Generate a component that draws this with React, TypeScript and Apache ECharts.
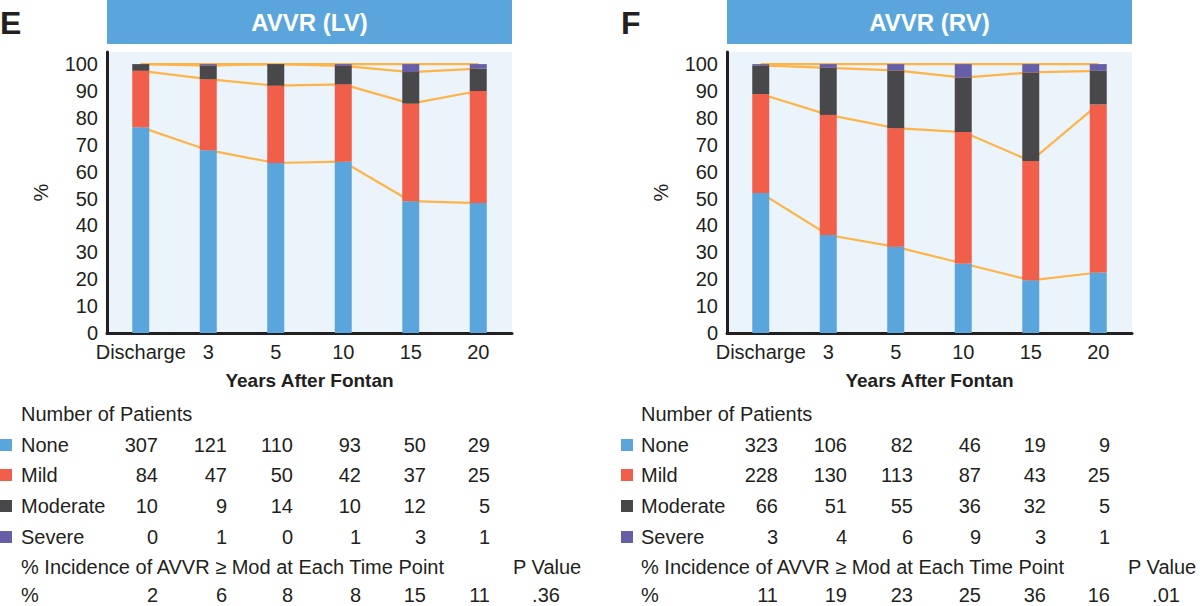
import React, { useEffect, useRef } from "react";
import * as echarts from "echarts";

// ---------- data ----------
const categories = ["Discharge", "3", "5", "10", "15", "20"];
const yTicks = [0, 10, 20, 30, 40, 50, 60, 70, 80, 90, 100];

// AVVR (LV) — percentages per time point
const lvNonePct = [76.56, 67.98, 63.22, 63.7, 49.02, 48.33];
const lvMildPct = [20.95, 26.4, 28.74, 28.77, 36.27, 41.67];
const lvModPct = [2.49, 5.06, 8.05, 6.85, 11.76, 8.33];
const lvSevPct = [0, 0.56, 0, 0.68, 2.94, 1.67];
// AVVR (RV)
const rvNonePct = [52.1, 36.43, 32.03, 25.84, 19.59, 22.5];
const rvMildPct = [36.77, 44.67, 44.14, 48.88, 44.33, 62.5];
const rvModPct = [10.65, 17.53, 21.48, 20.22, 32.99, 12.5];
const rvSevPct = [0.48, 1.37, 2.34, 5.06, 3.09, 2.5];

// Number of patients
const lvNoneN = [307, 121, 110, 93, 50, 29];
const lvMildN = [84, 47, 50, 42, 37, 25];
const lvModN = [10, 9, 14, 10, 12, 5];
const lvSevN = [0, 1, 0, 1, 3, 1];
const rvNoneN = [323, 106, 82, 46, 19, 9];
const rvMildN = [228, 130, 113, 87, 43, 25];
const rvModN = [66, 51, 55, 36, 32, 5];
const rvSevN = [3, 4, 6, 9, 3, 1];

const lvIncidence = [2, 6, 8, 8, 15, 11];
const rvIncidence = [11, 19, 23, 25, 36, 16];
const lvPValue = ".36";
const rvPValue = ".01";

const gradeNames = ["None", "Mild", "Moderate", "Severe"];
const panelTitles = ["AVVR (LV)", "AVVR (RV)"];
const panelLetters = ["E", "F"];

// ---------- style ----------
const COLORS = ["#5aa5dc", "#f15f4a", "#48484a", "#675ea8"];
const LINE_COLOR = "#fdb448";
const TEXT = "#231f20";
const FONT = "'Liberation Sans', Arial, sans-serif";
const OFFSET = 620;
const colRight = [158, 227, 293, 361, 426, 490];
const rowY = [445, 475, 506, 537];

export default function App() {
  const ref = useRef<HTMLDivElement>(null);

  useEffect(() => {
    if (!ref.current) return;
    const chart = echarts.init(ref.current, undefined, { renderer: "svg" });

    const panels = [
      {
        pct: [lvNonePct, lvMildPct, lvModPct, lvSevPct],
        n: [lvNoneN, lvMildN, lvModN, lvSevN],
        inc: lvIncidence,
        p: lvPValue,
      },
      {
        pct: [rvNonePct, rvMildPct, rvModPct, rvSevPct],
        n: [rvNoneN, rvMildN, rvModN, rvSevN],
        inc: rvIncidence,
        p: rvPValue,
      },
    ];

    const grids: any[] = [];
    const xAxes: any[] = [];
    const yAxes: any[] = [];
    const series: any[] = [];
    const graphics: any[] = [];

    panels.forEach((panel, pi) => {
      const ox = pi * OFFSET;
      grids.push({
        left: 107 + ox,
        top: 52,
        width: 405,
        height: 281,
        show: true,
        backgroundColor: "#ebf3fb",
        borderWidth: 0,
      });
      xAxes.push({
        type: "category",
        gridIndex: pi,
        data: categories,
        axisTick: { show: false },
        axisLine: { lineStyle: { color: TEXT, width: 3 } },
        axisLabel: { color: TEXT, fontSize: 20, fontFamily: FONT, margin: 9, interval: 0 },
        name: "Years After Fontan",
        nameLocation: "middle",
        nameGap: 38,
        nameTextStyle: { color: TEXT, fontSize: 19, fontWeight: "bold", fontFamily: FONT },
      });
      yAxes.push({
        type: "value",
        gridIndex: pi,
        min: 0,
        max: 104.5,
        interval: 10,
        axisLine: { show: true, lineStyle: { color: TEXT, width: 3 } },
        axisTick: { show: false },
        splitLine: { show: false },
        axisLabel: {
          color: TEXT,
          fontSize: 20,
          fontFamily: FONT,
          margin: 9,
          showMaxLabel: false,
          formatter: (v: number) => (yTicks.indexOf(v) >= 0 ? String(v) : ""),
        },
        name: "%",
        nameLocation: "middle",
        nameGap: 56,
        nameTextStyle: { color: TEXT, fontSize: 20, fontFamily: FONT },
      });

      panel.pct.forEach((arr, gi) => {
        series.push({
          type: "bar",
          name: gradeNames[gi],
          xAxisIndex: pi,
          yAxisIndex: pi,
          stack: "s" + pi,
          barWidth: 17,
          data: arr,
          itemStyle: { color: COLORS[gi] },
          z: 3,
        });
      });
      // cumulative connecting lines
      for (let level = 0; level < 4; level++) {
        const cum = categories.map((_, ci) => {
          let s = 0;
          for (let g = 0; g <= level; g++) s += panel.pct[g][ci];
          return s;
        });
        series.push({
          type: "line",
          xAxisIndex: pi,
          yAxisIndex: pi,
          data: cum,
          symbol: "none",
          lineStyle: { color: LINE_COLOR, width: 2.2 },
          z: 2,
          silent: true,
        });
      }

      // title bar
      graphics.push({
        type: "rect",
        shape: { x: 107 + ox, y: 0, width: 405, height: 44 },
        style: { fill: "#5aa6dc" },
      });
      graphics.push({
        type: "text",
        x: 309.5 + ox,
        y: 22,
        style: {
          text: panelTitles[pi],
          fill: "#ffffff",
          font: `bold 24px ${FONT}`,
          textAlign: "center",
          textVerticalAlign: "middle",
        },
      });
      graphics.push({
        type: "text",
        x: ox + (pi ? 1 : 0),
        y: 23,
        style: {
          text: panelLetters[pi],
          fill: TEXT,
          font: `bold 32px ${FONT}`,
          textAlign: "left",
          textVerticalAlign: "middle",
        },
      });

      const txt = (text: string, x: number, y: number, align: string) => ({
        type: "text",
        x,
        y,
        style: {
          text,
          fill: TEXT,
          font: `20px ${FONT}`,
          lineHeight: 18,
          textAlign: align,
          textVerticalAlign: "middle",
        },
      });

      graphics.push(txt("Number of Patients", 21 + ox, 414, "left"));
      gradeNames.forEach((g, gi) => {
        graphics.push({
          type: "rect",
          shape: { x: ox + (pi ? 1 : 0), y: rowY[gi] - 6, width: 12, height: 12 },
          style: { fill: COLORS[gi] },
        });
        graphics.push(txt(g, 21 + ox, rowY[gi], "left"));
        panel.n[gi].forEach((v, ci) => {
          graphics.push(txt(String(v), colRight[ci] + ox, rowY[gi], "right"));
        });
      });
      graphics.push(txt("% Incidence of AVVR \u2265 Mod at Each Time Point", 21 + ox, 567, "left"));
      graphics.push(txt("P Value", (pi ? 508 : 513) + ox, 567, "left"));
      graphics.push(txt("%", 21 + ox, 595, "left"));
      panel.inc.forEach((v, ci) => {
        graphics.push(txt(String(v), colRight[ci] + ox, 595, "right"));
      });
      graphics.push(txt(panel.p, 546 + ox, 595, "center"));
    });

    chart.setOption({
      animation: false,
      grid: grids,
      xAxis: xAxes,
      yAxis: yAxes,
      series,
      graphic: { elements: graphics },
    });

    return () => chart.dispose();
  }, []);

  return (
    <div
      ref={ref}
      style={{ position: "absolute", left: 0, top: 0, width: 1200, height: 606, background: "#ffffff" }}
    />
  );
}
